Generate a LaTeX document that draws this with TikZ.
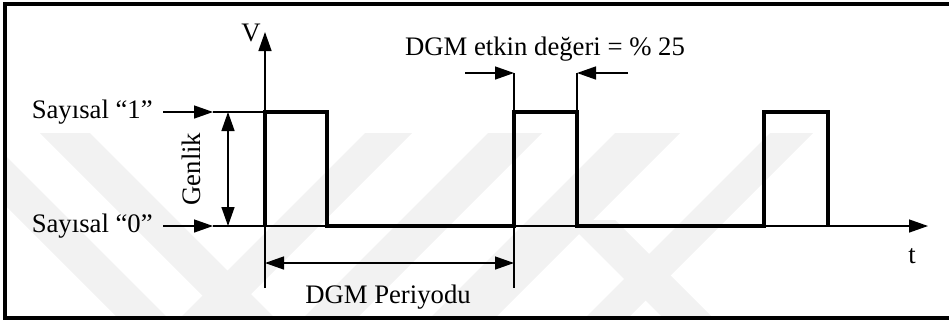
\documentclass[tikz,border=0pt]{standalone}
\usepackage{fontspec}
\setmainfont{Liberation Serif}
\usetikzlibrary{arrows.meta}
\usetikzlibrary{positioning}

\begin{document}
\begin{tikzpicture}[x=0.02cm,y=-0.02cm,
    axis/.style={line width=0.8pt},
    pulse/.style={line width=1.8pt},
    dim/.style={line width=0.8pt,-{Triangle[length=0.38cm,width=0.26cm]}},
    dimboth/.style={line width=0.8pt,{Triangle[length=0.38cm,width=0.26cm]}-{Triangle[length=0.38cm,width=0.26cm]}},
    lbl/.style={inner sep=0pt,font=\fontsize{15.2}{18}\selectfont},
    wm/.style={fill=black!5,draw=none}]
    \useasboundingbox (0,0) rectangle (949,322);

    % faint background bands
    \begin{scope}
      \clip (5,133) rectangle (949,318);
      \fill[wm] (40,133) -- (90,133) -- (275,318) -- (225,318) -- cycle;
      \fill[wm] (-67,133) -- (-17,133) -- (168,318) -- (118,318) -- cycle;
      \fill[wm] (365,133) -- (412,133) -- (227,318) -- (180,318) -- cycle;
      \fill[wm] (488,133) -- (542,133) -- (357,318) -- (303,318) -- cycle;
      \fill[wm] (615,133) -- (680,133) -- (495,318) -- (430,318) -- cycle;
      \fill[wm] (770,133) -- (813,133) -- (628,318) -- (585,318) -- cycle;
      \fill[wm] (565,220) -- (615,220) -- (713,318) -- (663,318) -- cycle;
    \end{scope}

    % frame
    \draw[line width=1.8pt] (949,4) -- (5,4) -- (5,318) -- (949,318);

    \coordinate (vtop) at (265,32);
    \coordinate (vbot) at (265,288);
    \coordinate (tend) at (928,226);
    \coordinate (a1) at (163,112);
    \coordinate (h1) at (213,112);
    \coordinate (a0) at (163,226);
    \coordinate (h0) at (213,226);
    \coordinate (top1) at (265,112);

    % axes
    \draw[dim] (vbot) -- (vtop);
    \draw[dim] (h0) -- (tend);
    \draw[axis] (h1) -- (top1);

    % pulse train
    \draw[pulse] (265,226) -- (top1) -- (327,112) -- (327,226)
      -- (514,226) -- (514,112) -- (577,112) -- (577,226)
      -- (764,226) -- (764,112) -- (828,112) -- (828,226);

    % level labels
    \node[lbl, left=0.2cm of a1] (s1) {Sayısal “1”};
    \node[lbl, left=0.2cm of a0] (s0) {Sayısal “0”};
    \draw[dim] (a1) -- (h1);
    \draw[dim] (a0) -- (h0);

    % amplitude
    \coordinate (g1) at (228,112);
    \coordinate (g0) at (228,226);
    \draw[dimboth] (g1) -- (g0);
    \node[lbl, rotate=90] (genlik) at (191,169) {Genlik};

    % period
    \coordinate (p0) at (265,263);
    \coordinate (p1) at (514,263);
    \draw[axis] (514,226) -- (514,288);
    \draw[dimboth] (p0) -- (p1);
    \node[lbl, anchor=base] (per) at (388,303) {DGM Periyodu};

    % duty cycle
    \coordinate (d0) at (514,73);
    \coordinate (d1) at (577,73);
    \coordinate (dl) at (465,73);
    \coordinate (dr) at (628,73);
    \draw[axis] (d0) -- (514,112);
    \draw[axis] (d1) -- (577,112);
    \draw[dim] (dl) -- (d0);
    \draw[dim] (dr) -- (d1);
    \node[lbl, anchor=base] (duty) at (545,55) {DGM etkin değeri = \% 25};

    \node[lbl, anchor=base] (vlbl) at (251,41) {V};
    \node[lbl, anchor=base] (tlbl) at (912,263) {t};
\end{tikzpicture}
\end{document}
